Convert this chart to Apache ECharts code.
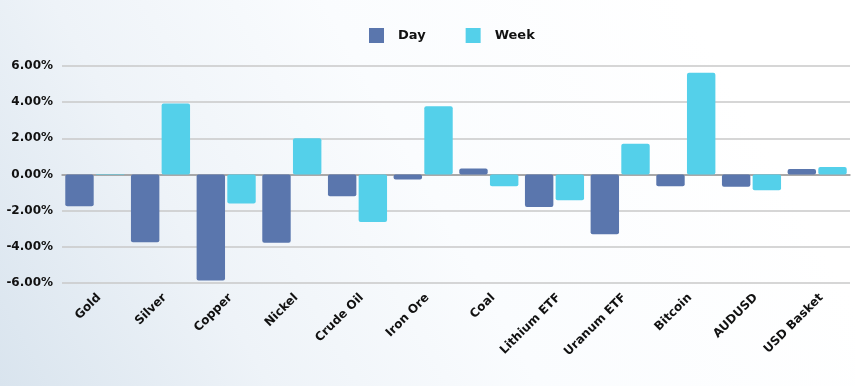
<!DOCTYPE html>
<html><head><meta charset="utf-8">
<script src="https://cdn.jsdelivr.net/npm/echarts@6/dist/echarts.min.js"></script>
<style>html,body{margin:0;padding:0;}#c{width:855px;height:386px;}</style>
</head><body><div id="c"></div>
<script>
const categories = ['Gold','Silver','Copper','Nickel','Crude Oil','Iron Ore','Coal','Lithium ETF','Uranum ETF','Bitcoin','AUDUSD','USD Basket'];
const dayValues = [-1.75,-3.74,-5.86,-3.77,-1.2,-0.28,0.33,-1.8,-3.31,-0.65,-0.68,0.31];
const weekValues = [-0.03,3.92,-1.6,2.0,-2.63,3.77,-0.65,-1.42,1.7,5.62,-0.87,0.42];
const yTicks = {min:-6,max:6,interval:2};

const chart = echarts.init(document.getElementById('c'));
const font = 'DejaVu Sans';
chart.setOption({
  backgroundColor: new echarts.graphic.LinearGradient(0,1,0.8,0,[
    {offset:0,color:'#d9e4ee'},{offset:0.3,color:'#eef3f8'},{offset:0.6,color:'#fafcfe'},{offset:1,color:'#ffffff'}]),
  animation:false,
  legend:{
    top:23,left:364,itemWidth:15,itemHeight:15,itemGap:40,icon:'rect',
    textStyle:{fontFamily:font,fontWeight:'bold',fontSize:13,color:'#111',padding:[0,0,0,9]},
    data:['Day','Week']
  },
  grid:{left:62,right:5,top:66,bottom:103,containLabel:false},
  xAxis:{
    type:'category',data:categories,
    axisLine:{onZero:true,lineStyle:{color:'#9a9a9a',width:1.5}},
    axisTick:{show:false},
    axisLabel:{rotate:45,interval:0,margin:17,padding:[0,-6,0,0],fontFamily:font,fontWeight:'bold',fontSize:12,color:'#111'}
  },
  yAxis:{
    type:'value',min:yTicks.min,max:yTicks.max,interval:yTicks.interval,
    axisLine:{show:false},axisTick:{show:false},
    splitLine:{lineStyle:{color:'#c8c8c8',width:1.5}},
    axisLabel:{formatter:v=>v.toFixed(2)+'%',fontFamily:font,fontWeight:'bold',fontSize:12,color:'#111',margin:9}
  },
  series:[
    {name:'Day',type:'bar',data:dayValues,barGap:'8%',barCategoryGap:'10%',
     itemStyle:{color:'#5a76ad',borderRadius:2}},
    {name:'Week',type:'bar',data:weekValues,
     itemStyle:{color:'#54d0ea',borderRadius:2}}
  ]
});
</script></body></html>
